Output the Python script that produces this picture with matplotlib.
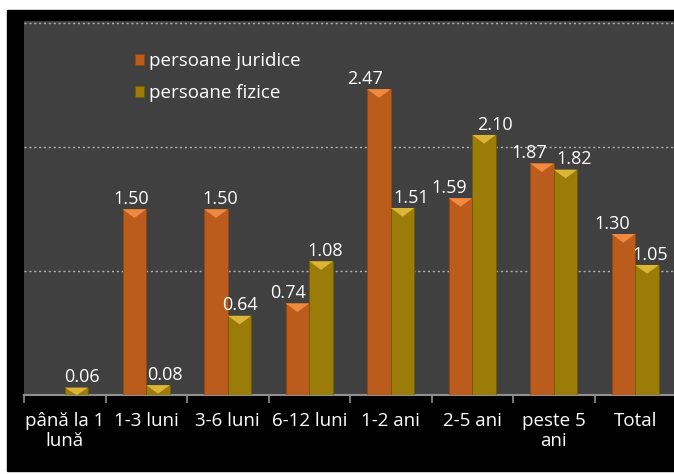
import matplotlib
matplotlib.use("Agg")
import matplotlib.pyplot as plt
from matplotlib.patches import Rectangle, Polygon
import numpy as np

categories = ["până la 1\nlună", "1-3 luni", "3-6 luni", "6-12 luni",
              "1-2 ani", "2-5 ani", "peste 5\nani", "Total"]
juridice = [0.00, 1.50, 1.50, 0.74, 2.47, 1.59, 1.87, 1.30]
fizice = [0.06, 0.08, 0.64, 1.08, 1.51, 2.10, 1.82, 1.05]
series_names = ["persoane juridice", "persoane fizice"]

# horizontal nudges of the value labels (pixels), as in the original layout
nudge_jur = [0, -2, 3, -7, -10, -8, -9, -8]
nudge_fiz = [4, 5, 0, 3, 6, 8, 6, 2]

plt.rcParams['font.family'] = ['Open Sans', 'DejaVu Sans']

fig = plt.figure(figsize=(6.74, 4.74), dpi=100, facecolor="white")
# black panel behind the chart
fig.patches.append(Rectangle((7 / 674, 3 / 474), 667 / 674, 461 / 474,
                             transform=fig.transFigure, color="black", zorder=-10))
ax = fig.add_axes([24 / 674, 79 / 474, 652 / 674, 374 / 474], zorder=2)
ax.set_facecolor("#404040")

x = np.arange(len(categories))
w = 0.29
body = ["#bc5c1c", "#9b7c08"]
tops = ["#f08a40", "#dcb534"]
edges = ["#93460f", "#735c00"]
bevel = 0.07

for k, (vals, off, nudge) in enumerate([(juridice, -w / 2, nudge_jur),
                                        (fizice, w / 2, nudge_fiz)]):
    bars = ax.bar(x + off, vals, width=w, color=body[k], edgecolor=edges[k],
                  linewidth=0.7, zorder=3, label=series_names[k])
    for b, v, n in zip(bars, vals, nudge):
        if v <= 0:
            continue
        x0, bw = b.get_x(), b.get_width()
        d = min(bevel, v)
        ax.add_patch(Polygon([(x0, v), (x0 + bw, v), (x0 + bw / 2, v - d)],
                             closed=True, color=tops[k], zorder=4, lw=0))
        ax.annotate(f"{v:.2f}", (x0 + bw / 2, v), xytext=(n, 1),
                    textcoords="offset points", ha="center", va="bottom",
                    color="white", fontsize=13, zorder=5)

ax.set_xlim(-0.5, len(categories) - 0.5)
ax.set_ylim(0, 3.02)
ax.set_yticks([1, 2, 3])
ax.yaxis.grid(True, linestyle=(0, (1.5, 2)), color="#b0b0b0", linewidth=1)
ax.set_axisbelow(True)
ax.tick_params(axis="y", left=False, labelleft=False)

ax.set_xticks(x)
ax.set_xticklabels(categories, color="white", fontsize=13.5, linespacing=1.15)
ax.set_xticks(np.arange(-0.5, len(categories) + 0.5), minor=True)
ax.tick_params(axis="x", which="major", length=0, pad=12)
ax.tick_params(axis="x", which="minor", length=6, color="#909090", width=1.2)

for s in ["top", "right", "left"]:
    ax.spines[s].set_visible(False)
ax.spines["bottom"].set_color("#909090")
ax.spines["bottom"].set_linewidth(1.5)

leg = ax.legend(loc="upper left", bbox_to_anchor=(0.17, 0.917), frameon=False,
                fontsize=13.5, handlelength=0.5, handleheight=0.5,
                handletextpad=0.25, labelspacing=0.75, borderpad=0,
                borderaxespad=0)
for t in leg.get_texts():
    t.set_color("white")

fig.savefig("out.png", dpi=100, facecolor=fig.get_facecolor())
